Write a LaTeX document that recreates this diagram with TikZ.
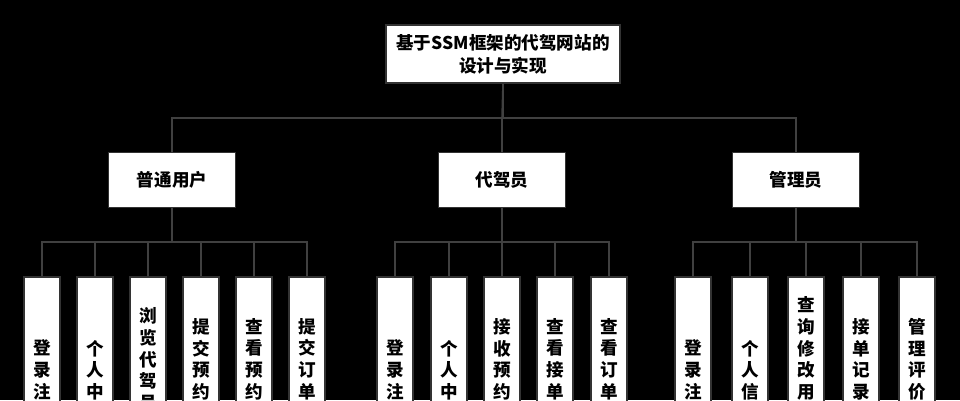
\documentclass[tikz,border=0pt]{standalone}
\usepackage{fontspec}
\setmainfont{Noto Sans CJK SC}
\usetikzlibrary{positioning}
\begin{document}
\begin{tikzpicture}[x=0.02cm, y=-0.02cm, line width=0.9pt,
    topbox/.style = {draw=black!80, fill=white, minimum width=4.68cm, minimum height=1.16cm, align=center, font=\bfseries\fontsize{10}{13}\selectfont},
    midbox/.style = {draw=black!80, fill=white, minimum width=2.54cm, minimum height=1.1cm, font=\bfseries\fontsize{10}{13}\selectfont},
    leaf/.style = {draw=black!80, fill=white, minimum width=0.72cm, minimum height=4.16cm, anchor=north, text width=1em, align=center, inner sep=0pt, font=\bfseries\fontsize{10}{12.3}\selectfont},
    wire/.style = {draw=black!75}]
    \fill[black] (0,0) rectangle (960,400);
    \useasboundingbox (0,0) rectangle (960,400);
    % Nodes
    \node[topbox] (sys) at (503,54) {基于SSM框架的代驾网站的\\设计与实现};
    \node[midbox] (user) at (172,180) {普通用户};
    \node[midbox] (drv) at (502,180) {代驾员};
    \node[midbox] (adm) at (796,180) {管理员};
    % leaves
    \node[leaf] (u1) at (42,276) {登\\录\\注\\册};
    \node[leaf] (u2) at (95,276) {个\\人\\中\\心};
    \node[leaf] (u3) at (148,276) {浏\\览\\代\\驾\\员\\信\\息};
    \node[leaf] (u4) at (201,276) {提\\交\\预\\约\\订\\单};
    \node[leaf] (u5) at (254,276) {查\\看\\预\\约\\记\\录};
    \node[leaf] (u6) at (307,276) {提\\交\\订\\单\\评\\价};
    \node[leaf] (d1) at (395,276) {登\\录\\注\\册};
    \node[leaf] (d2) at (449,276) {个\\人\\中\\心};
    \node[leaf] (d3) at (502,276) {接\\收\\预\\约\\订\\单};
    \node[leaf] (d4) at (555,276) {查\\看\\接\\单\\记\\录};
    \node[leaf] (d5) at (609,276) {查\\看\\订\\单\\评\\价};
    \node[leaf] (a1) at (693,276) {登\\录\\注\\册};
    \node[leaf] (a2) at (750,276) {个\\人\\信\\息};
    \node[leaf] (a3) at (806,276) {查\\询\\修\\改\\用\\户\\信\\息};
    \node[leaf] (a4) at (861,276) {接\\单\\记\\录\\管\\理};
    \node[leaf] (a5) at (917,276) {管\\理\\评\\价\\信\\息};
    % Lines
    \draw[wire] (sys.south) -- (502,118);
    \foreach \m in {user, drv, adm}
        \draw[wire] (sys.south) |- (\m.north |- 0,118) -- (\m.north);
    \foreach \l in {u1,u2,u3,u4,u5,u6}
        \draw[wire] (user.south) -- (user.south |- 0,242) -| (\l.north);
    \foreach \l in {d1,d2,d3,d4,d5}
        \draw[wire] (drv.south) -- (drv.south |- 0,242) -| (\l.north);
    \foreach \l in {a1,a2,a3,a4,a5}
        \draw[wire] (adm.south) -- (adm.south |- 0,242) -| (\l.north);
\end{tikzpicture}
\end{document}
